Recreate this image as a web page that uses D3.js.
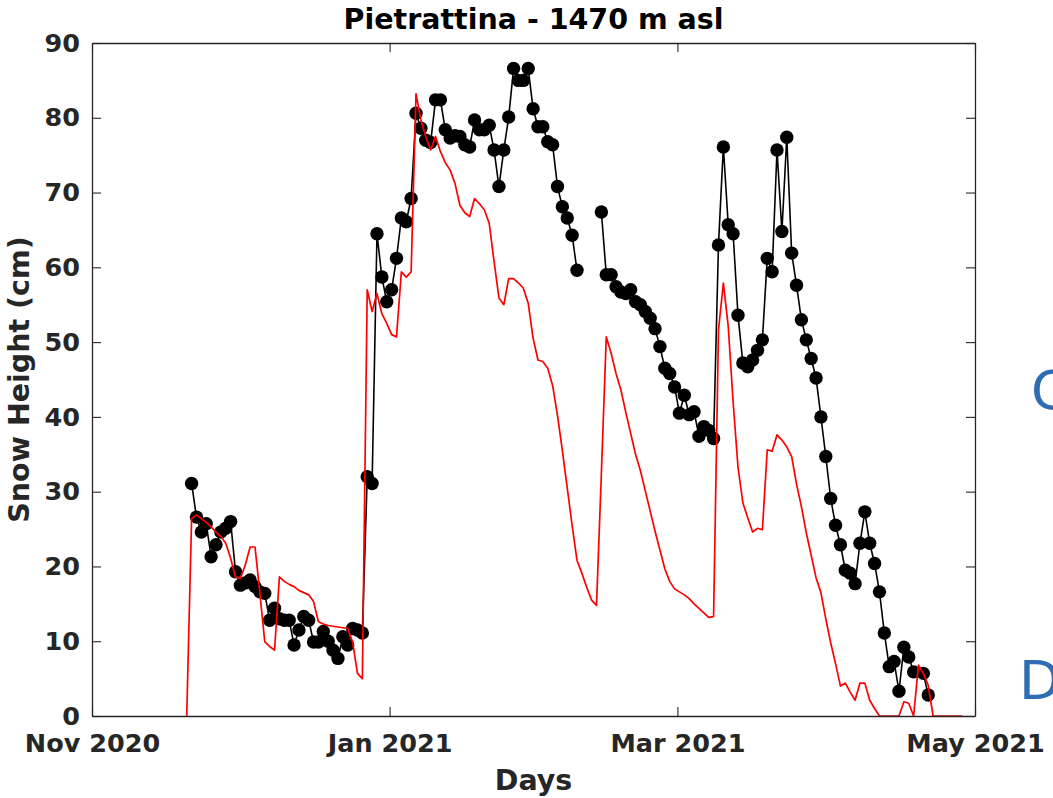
<!DOCTYPE html>
<html>
<head>
<meta charset="utf-8">
<script src="https://cdn.jsdelivr.net/npm/d3@7"></script>
<style>
  html, body { margin: 0; padding: 0; background: #fff; }
  svg { display: block; }
  text { font-family: "DejaVu Sans", sans-serif; }
</style>
</head>
<body>
<svg id="chart" width="1053" height="798"></svg>
<script>
// ---------------- DATA ----------------
const title = "Pietrattina - 1470 m asl";
const xLabel = "Days";
const yLabel = "Snow Height (cm)";
const startDate = [2020, 10, 1];      // Nov 1 2020 (month 0-based)
const endDate = [2021, 4, 1];         // May 1 2021
const obsHour = 10;                   // daily readings taken at ~10:00

const xTickDates = [[2020, 10, 1], [2021, 0, 1], [2021, 2, 1], [2021, 4, 1]];
const xTickLabels = ["Nov 2020", "Jan 2021", "Mar 2021", "May 2021"];
const yTicks = [0, 10, 20, 30, 40, 50, 60, 70, 80, 90];

// observed snow height (black dots), day offset from Nov 1 2020; null = no data
const obsDay = [
  20,21,22,23,24,25,26,27,28,29,30,31,32,33,34,35,36,37,38,39,
  40,41,42,43,44,45,46,47,48,49,50,51,52,53,54,55,56,57,58,59,
  60,61,62,63,64,65,66,67,68,69,70,71,72,73,74,75,76,77,78,79,
  80,81,82,83,84,85,86,87,88,89,90,91,92,93,94,95,96,97,98,99,
  100,
  104,105,106,107,108,109,110,111,112,113,114,115,116,117,118,119,
  120,121,122,123,124,125,126,127,128,129,130,131,132,133,134,135,136,137,138,139,
  140,141,142,143,144,145,146,147,148,149,150,151,152,153,154,155,156,157,158,159,
  160,161,162,163,164,165,166,167,168,170,171
];
const obsHS = [
  31.1,26.6,24.6,25.7,21.3,22.9,24.6,25.1,26.0,19.3,17.5,17.8,18.2,17.3,16.6,16.4,12.8,14.4,13.0,12.8,
  12.8,9.5,11.5,13.3,12.8,9.9,9.9,11.3,10.0,8.8,7.7,10.6,9.5,11.7,11.5,11.1,32.0,31.1,64.5,58.7,
  55.4,57.0,61.2,66.6,66.1,69.2,80.6,78.6,77.0,76.7,82.4,82.4,78.4,77.3,77.6,77.5,76.4,76.1,79.7,78.4,
  78.4,79.0,75.7,70.8,75.7,80.1,86.6,85.0,85.0,86.6,81.2,78.8,78.8,76.8,76.4,70.8,68.1,66.6,64.3,59.6,
  null,
  67.4,59.0,59.0,57.4,56.7,56.5,57.0,55.4,55.0,54.1,53.2,51.8,49.4,46.5,45.8,44.0,
  40.5,42.9,40.3,40.7,37.4,38.7,38.2,37.1,63.0,76.1,65.7,64.5,53.6,47.2,46.7,47.6,48.9,50.3,61.2,59.4,
  75.7,64.8,77.4,61.9,57.6,53.0,50.3,47.8,45.2,40.0,34.7,29.1,25.5,22.9,19.5,19.1,17.7,23.1,27.3,23.1,
  20.4,16.6,11.1,6.6,7.3,3.3,9.2,7.9,5.9,5.7,2.8
];

// modelled snow height (red line), day offsets 19..178
const modelFirstDay = 19;
const modelHS = [
  0,26.4,26.9,26.4,25.9,25.3,24.6,24.0,23.1,21.1,18.6,            // 19-29
  18.4,20.2,22.6,22.6,16.4,9.9,9.3,8.8,18.6,18.0,                 // 30-39
  17.6,17.3,16.8,16.5,16.2,15.3,12.6,12.3,12.1,12.0,              // 40-49
  11.9,11.8,11.7,9.9,5.7,5.0,57.0,54.1,56.5,53.8,                 // 50-59
  52.5,51.0,50.7,59.4,58.7,59.4,83.2,79.7,77.5,75.7,              // 60-69
  77.5,75.5,74.0,73.0,71.2,68.3,67.3,66.8,69.2,68.5,              // 70-79
  67.7,65.9,60.8,55.9,55.0,58.5,58.5,57.9,57.2,55.2,              // 80-89
  50.5,47.6,47.4,46.5,44.2,40.2,35.5,30.5,25.5,20.8,              // 90-99
  19.1,17.2,15.5,14.8,32.5,50.7,48.5,45.8,43.6,40.6,              // 100-109
  37.8,35.0,32.8,30.1,27.4,24.7,22.2,19.7,18.0,17.0,              // 110-119
  16.6,16.2,15.7,15.0,14.4,13.8,13.2,13.3,51.6,57.9,              // 120-129
  52.1,42.0,33.3,28.5,26.5,24.6,25.1,24.9,35.6,35.4,              // 130-139
  37.6,36.9,36.0,34.7,31.0,28.0,24.5,21.5,18.5,16.5,              // 140-149
  13.0,9.8,7.0,4.0,4.4,3.2,2.1,4.4,4.4,2.1,                       // 150-159
  1.0,0,0,0,0,0,1.9,1.7,0,6.8,                                    // 160-169
  5.7,4.1,0,0,0,0,0,0,0                                           // 170-178
];

// ---------------- CHART ----------------
const W = 1053, H = 798;
const margin = { left: 92, right: 1053 - 975, top: 43, bottom: 798 - 716 };
const svg = d3.select("#chart");
svg.append("rect").attr("width", W).attr("height", H).attr("fill", "#fff");

const utc = (a, h = 0) => new Date(Date.UTC(a[0], a[1], a[2], h));
const dayDate = d => new Date(Date.UTC(startDate[0], startDate[1], startDate[2] + d, obsHour));

const x = d3.scaleUtc().domain([utc(startDate), utc(endDate)]).range([margin.left, W - margin.right]);
const y = d3.scaleLinear().domain([0, 90]).range([H - margin.bottom, margin.top]);

const axisColor = "#262626";
const tickLen = 9;
const x0 = x.range()[0], x1 = x.range()[1], y0 = y.range()[0], y1 = y.range()[1];

// data lines
const obs = obsDay.map((d, i) => ({ t: dayDate(d), v: obsHS[i] }));
const model = modelHS.map((v, i) => ({ t: dayDate(modelFirstDay + i), v }));

const line = d3.line().defined(d => d.v !== null).x(d => x(d.t)).y(d => y(d.v));

const g = svg.append("g");
g.append("path").datum(obs).attr("d", line)
  .attr("fill", "none").attr("stroke", "#000").attr("stroke-width", 1.6);
g.selectAll("circle.obs").data(obs.filter(d => d.v !== null)).join("circle")
  .attr("class", "obs")
  .attr("cx", d => x(d.t)).attr("cy", d => y(d.v)).attr("r", 6.7).attr("fill", "#000");
g.append("path").datum(model).attr("d", line)
  .attr("fill", "none").attr("stroke", "#ff0000").attr("stroke-width", 1.7)
  .attr("stroke-linejoin", "round");

// axes (box with inward ticks)
const xTicks = xTickDates.map(a => utc(a));
const fmt = d => xTickLabels[xTicks.findIndex(t => +t === +d)];

const xAxisB = d3.axisBottom(x).tickValues(xTicks).tickFormat(fmt).tickSizeInner(-tickLen).tickSizeOuter(0).tickPadding(18);
const xAxisT = d3.axisTop(x).tickValues(xTicks).tickFormat("").tickSizeInner(-tickLen).tickSizeOuter(0);
const yAxisL = d3.axisLeft(y).tickValues(yTicks).tickSizeInner(-tickLen).tickSizeOuter(0).tickPadding(12);
const yAxisR = d3.axisRight(y).tickValues(yTicks).tickFormat("").tickSizeInner(-tickLen).tickSizeOuter(0);

function style(sel) {
  sel.selectAll("path.domain").attr("stroke", axisColor).attr("stroke-width", 1.3);
  sel.selectAll(".tick line").attr("stroke", axisColor).attr("stroke-width", 1.1);
  sel.selectAll(".tick text").attr("fill", axisColor)
    .attr("font-family", "DejaVu Sans").attr("font-weight", "bold").attr("font-size", 25.5);
}
svg.append("g").attr("transform", `translate(0,${y0})`).call(xAxisB).call(style);
svg.append("g").attr("transform", `translate(0,${y1})`).call(xAxisT).call(style);
svg.append("g").attr("transform", `translate(${x0},0)`).call(yAxisL).call(style);
svg.append("g").attr("transform", `translate(${x1},0)`).call(yAxisR).call(style);

// titles
svg.append("text").attr("x", (x0 + x1) / 2).attr("y", 29)
  .attr("text-anchor", "middle").attr("font-weight", "bold").attr("font-size", 28.5)
  .attr("fill", "#000").text(title);
svg.append("text").attr("x", (x0 + x1) / 2).attr("y", 790)
  .attr("text-anchor", "middle").attr("font-weight", "bold").attr("font-size", 28.5)
  .attr("fill", axisColor).text(xLabel);
svg.append("text")
  .attr("transform", `translate(29,${(y0 + y1) / 2}) rotate(-90)`)
  .attr("text-anchor", "middle").attr("font-weight", "bold").attr("font-size", 28.5)
  .attr("fill", axisColor).text(yLabel);

// fragments of neighbouring panel labels at the right edge (cut off, as in the source)
svg.append("text").attr("x", 1031).attr("y", 409)
  .attr("font-family", "Open Sans").attr("font-size", 54).attr("fill", "#2e6db4").text("C");
svg.append("text").attr("x", 1019).attr("y", 699)
  .attr("font-family", "Open Sans").attr("font-size", 54).attr("fill", "#2e6db4").text("D");
</script>
</body>
</html>
